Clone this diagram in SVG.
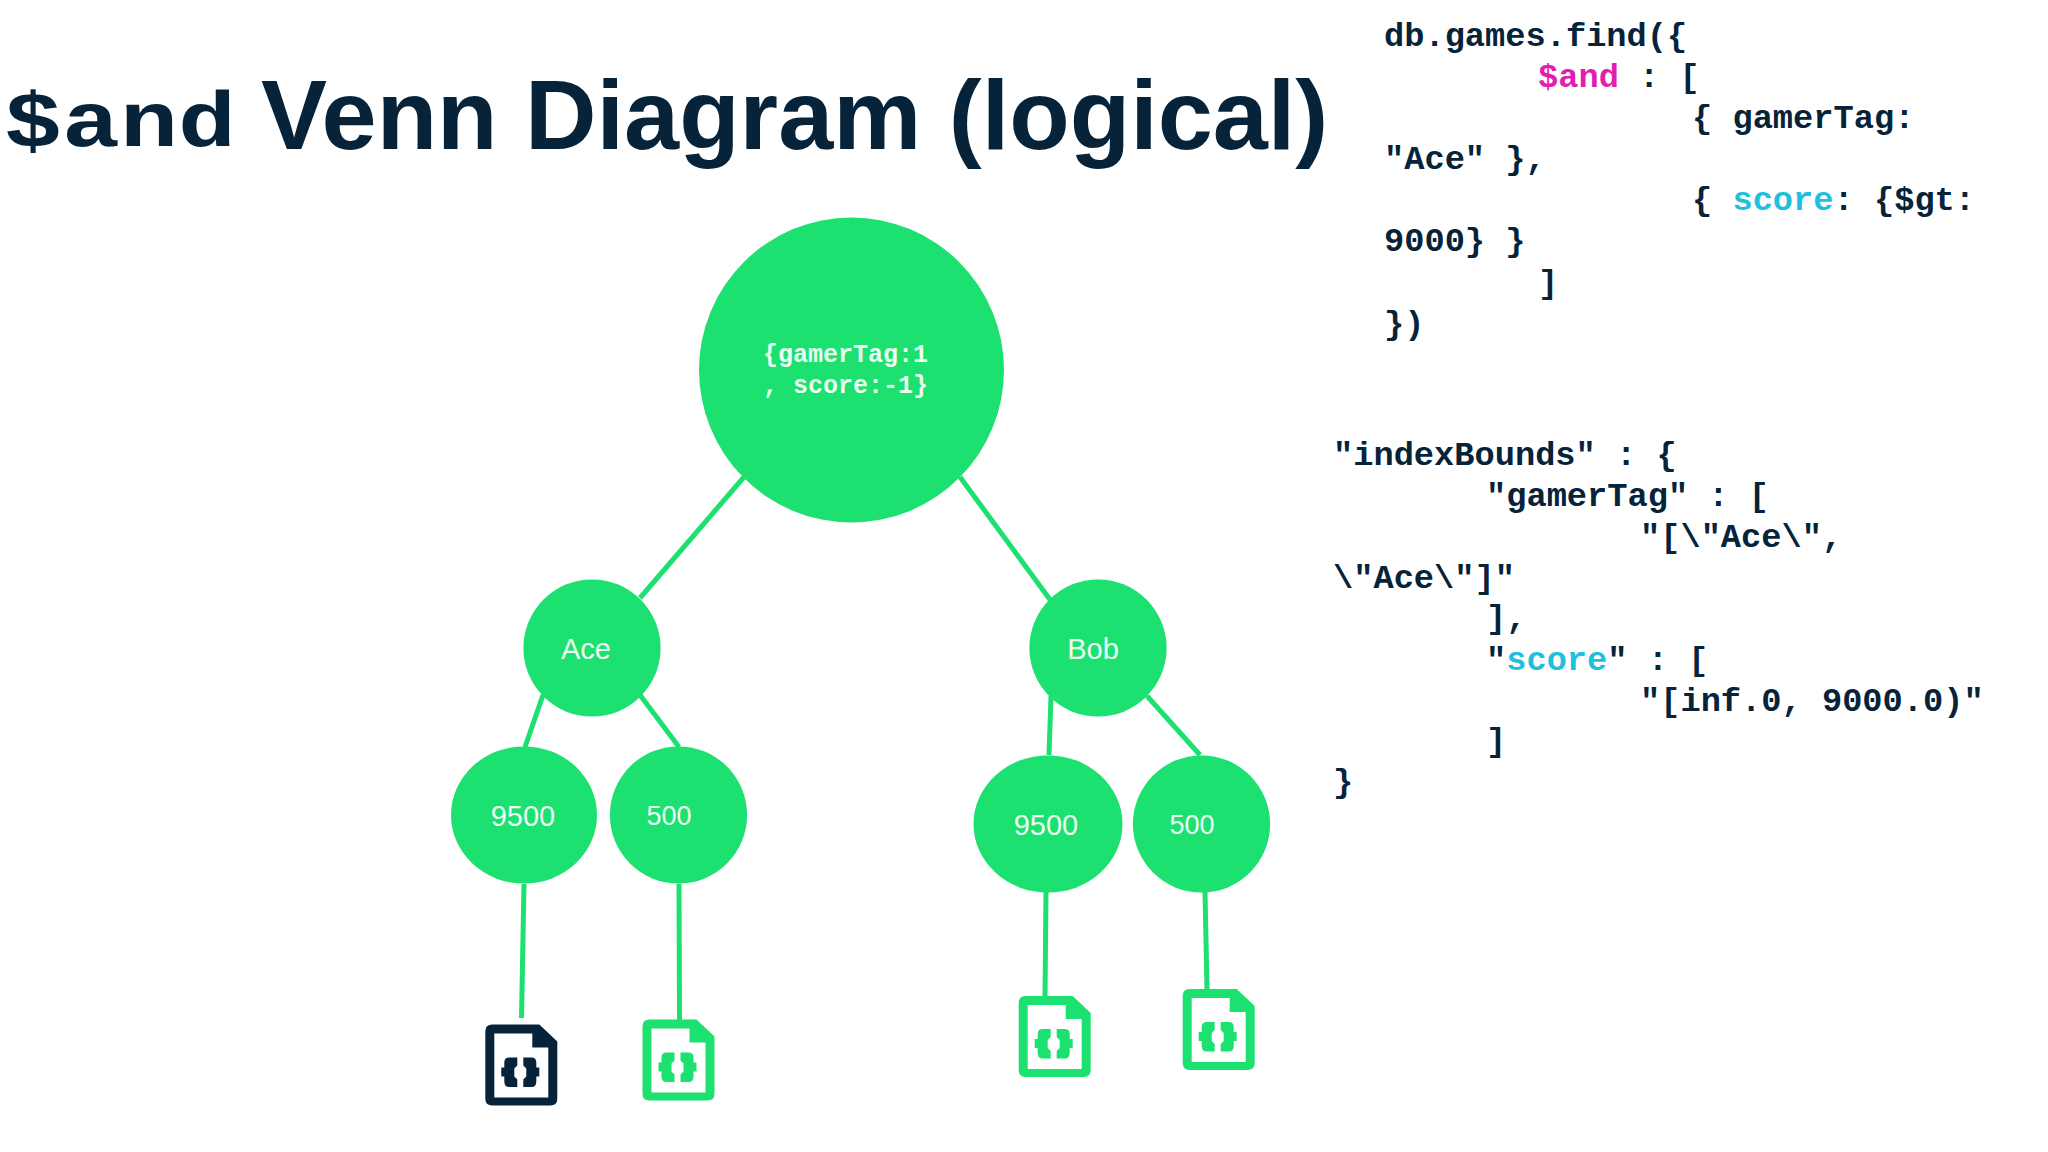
<svg xmlns="http://www.w3.org/2000/svg" xmlns:xlink="http://www.w3.org/1999/xlink" width="2048" height="1152" viewBox="0 0 2048 1152">
<style>
.bg{fill:#ffffff}
.n{fill:#1ce06f}
.c line{stroke:#1ce06f;stroke-width:5;fill:none}
.code{font-family:"Liberation Mono",monospace;font-weight:700;font-size:33.7px;fill:#06233a}
.pink{fill:#e01fb0}
.cyan{fill:#1fbfe0}
.lbl{font-family:"Liberation Sans",Arial,sans-serif;fill:#eafff2;font-size:29px;text-anchor:middle}
.rootlbl{font-family:"Liberation Mono",monospace;font-weight:700;font-size:25px;fill:#eafff2}
.ig{fill:#1ce06f}
.id{fill:#06233a}
</style>
<defs>
<g id="doc">
<path fill-rule="evenodd" d="M7 0H54L72 17V74Q72 81 65 81H7Q0 81 0 74V7Q0 0 7 0ZM9 9V73H63V23H47V9Z"/>
<path d="M32 33H24Q19 33 19 38V43H16V52H19V57Q19 62.500 24 62.500H32V55L29 52V44L32 41Z"/>
<path d="M38 33H46Q51 33 51 38V43H54V52H51V57Q51 62.500 46 62.500H38V55L41 52V44L38 41Z"/>
</g>
</defs>
<rect class="bg" width="2048" height="1152"/>
<g id="title">
<text x="4" y="146" font-family="'Liberation Mono',monospace" font-weight="700" font-size="78" fill="#06233a" textLength="232" lengthAdjust="spacingAndGlyphs">$and</text>
<text x="261" y="149" font-family="'Liberation Sans',Arial,sans-serif" font-weight="700" font-size="99" fill="#06233a">Venn Diagram (logical)</text>
</g>
<g id="connectors" class="c">
<line x1="744" y1="477" x2="640" y2="598"/>
<line x1="960" y1="477" x2="1051" y2="601"/>
<line x1="543" y1="695" x2="525" y2="747"/>
<line x1="640" y1="695" x2="679" y2="747"/>
<line x1="1051" y1="696" x2="1049" y2="755"/>
<line x1="1147" y1="696" x2="1200" y2="755"/>
<line x1="524" y1="884" x2="521.500" y2="1018"/>
<line x1="679" y1="884" x2="679.500" y2="1020"/>
<line x1="1046" y1="892" x2="1045" y2="997"/>
<line x1="1205" y1="892" x2="1207" y2="990"/>
</g>
<g id="root"><circle class="n" cx="851.500" cy="370" r="152.500"/>
<text class="rootlbl" x="763" y="362">{gamerTag:1</text><text class="rootlbl" x="763" y="393">, score:-1}</text></g>
<g id="ace"><circle class="n" cx="592" cy="648" r="68.600"/><text class="lbl" x="586" y="659">Ace</text></g>
<g id="bob"><circle class="n" cx="1098" cy="648" r="68.600"/><text class="lbl" x="1093" y="659">Bob</text></g>
<g id="ace-9500"><ellipse class="n" cx="524" cy="815" rx="73" ry="68.600"/><text class="lbl" x="523" y="826">9500</text></g>
<g id="ace-500"><circle class="n" cx="678.500" cy="815" r="68.600"/><text class="lbl" x="669" y="825" style="font-size:27px">500</text></g>
<g id="bob-9500"><ellipse class="n" cx="1048" cy="824" rx="74.500" ry="68.600"/><text class="lbl" x="1046" y="835">9500</text></g>
<g id="bob-500"><circle class="n" cx="1201.500" cy="824" r="68.600"/><text class="lbl" x="1192" y="834" style="font-size:27px">500</text></g>
<g id="doc1" class="id"><use xlink:href="#doc" href="#doc" x="485.300" y="1024.500"/></g>
<g id="doc2" class="ig"><use xlink:href="#doc" href="#doc" x="642.500" y="1019.500"/></g>
<g id="doc3" class="ig"><use xlink:href="#doc" href="#doc" x="1018.700" y="996"/></g>
<g id="doc4" class="ig"><use xlink:href="#doc" href="#doc" x="1182.700" y="989"/></g>
<g id="query" class="code">
<text x="1384" y="46">db.games.find({</text>
<text x="1538" y="87"><tspan class="pink">$and</tspan> : [</text>
<text x="1692" y="128">{ gamerTag:</text>
<text x="1384" y="169">"Ace" },</text>
<text x="1692" y="210">{ <tspan class="cyan">score</tspan>: {$gt:</text>
<text x="1384" y="251">9000} }</text>
<text x="1538" y="293">]</text>
<text x="1384" y="334">})</text>
</g>
<g id="bounds" class="code">
<text x="1333" y="465">"indexBounds" : {</text>
<text x="1486" y="506">"gamerTag" : [</text>
<text x="1640" y="547">"[\"Ace\",</text>
<text x="1333" y="588">\"Ace\"]"</text>
<text x="1486" y="628">],</text>
<text x="1486" y="670">"<tspan class="cyan">score</tspan>" : [</text>
<text x="1640" y="711">"[inf.0, 9000.0)"</text>
<text x="1486" y="751">]</text>
<text x="1333" y="792">}</text>
</g>
</svg>
